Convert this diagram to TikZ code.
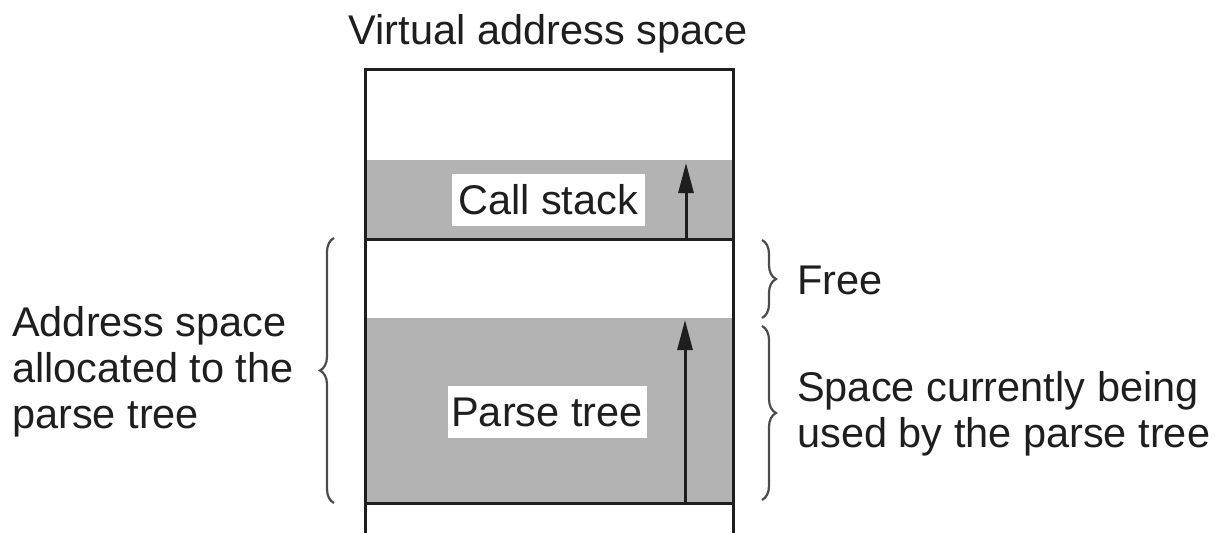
\documentclass[tikz,border=0pt]{standalone}
\usepackage{fontspec}
\setmainfont{Liberation Sans}
\usetikzlibrary{decorations.pathreplacing,arrows.meta}
\definecolor{regiongray}{RGB}{179,179,179}
\definecolor{ink}{RGB}{30,30,30}
\begin{document}
\begin{tikzpicture}[x=1pt,y=-1pt,
  lbl/.style={font=\fontsize{41.5}{46}\selectfont, inner sep=0pt, text=ink},
  wbox/.style={lbl, fill=white, minimum width=#1, minimum height=52pt},
  frame/.style={line width=3pt, draw=ink},
  brc/.style={decorate, decoration={brace, amplitude=14pt}, line width=2.2pt, draw=black!70},
  uparrow/.style={draw=ink, -{Triangle[length=30pt,width=15pt]}, line width=3pt}]
\useasboundingbox (0,0) rectangle (1216,533);
% shaded regions
\fill[regiongray] (365,160) rectangle (733,239);
\fill[regiongray] (365,318) rectangle (733,503);
% frame
\draw[frame] (365,533) -- (365,69) -- (733,69) -- (733,533);
\draw[frame] (365,239) -- (733,239);
\draw[frame] (365,503) -- (733,503);
% arrows
\coordinate (cs0) at (686,239);
\coordinate (cs1) at (686,163);
\coordinate (pt0) at (685,503);
\coordinate (pt1) at (685,320);
\draw[uparrow] (cs0) -- (cs1);
\draw[uparrow] (pt0) -- (pt1);
% labels
\node[lbl] (title) at (548,34) {Virtual address space};
\node[wbox=193pt] (callstack) at (548,200) {Call stack};
\node[wbox=199pt] (parsetree) at (547,412) {Parse tree};
\node[lbl, anchor=west, align=left] (alloc) at (12,372) {Address space\\allocated to the\\parse tree};
\node[lbl, anchor=west] (free) at (797,280) {Free};
\node[lbl, anchor=west, align=left] (used) at (797,414) {Space currently being\\used by the parse tree};
% braces
\coordinate (lb0) at (334,503);
\coordinate (lb1) at (334,238);
\coordinate (fb0) at (762,240);
\coordinate (fb1) at (762,318);
\coordinate (ub0) at (762,326);
\coordinate (ub1) at (762,500);
\draw[brc] (lb0) -- (lb1);
\draw[brc] (fb0) -- (fb1);
\draw[brc] (ub0) -- (ub1);
\end{tikzpicture}
\end{document}
